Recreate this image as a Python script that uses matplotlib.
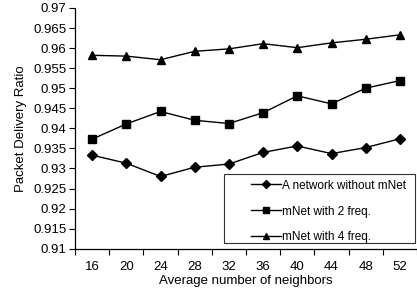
import numpy as np
import matplotlib.pyplot as plt
from matplotlib.ticker import FixedLocator, FixedFormatter
from matplotlib.patches import Rectangle

plt.rcParams['font.family'] = ['Liberation Sans', 'DejaVu Sans']

# data
neighbors = [16, 20, 24, 28, 32, 36, 40, 44, 48, 52]
no_mnet = [0.9333, 0.9313, 0.9280, 0.9303, 0.9311, 0.9340, 0.9356, 0.9337, 0.9352, 0.9374]
mnet_2 = [0.9373, 0.9411, 0.9442, 0.9420, 0.9412, 0.9439, 0.9481, 0.9461, 0.9500, 0.9519]
mnet_4 = [0.9582, 0.9580, 0.9571, 0.9592, 0.9598, 0.9611, 0.9601, 0.9613, 0.9622, 0.9633]
labels = ["A network without mNet", "mNet with 2 freq.", "mNet with 4 freq."]

fig = plt.figure(figsize=(4.17, 2.95), dpi=100)
ax = fig.add_axes([0.18, 0.157, 0.82, 0.816])

x = np.arange(len(neighbors))
ax.plot(x, no_mnet, color='black', lw=1, marker='D', ms=5, label=labels[0])
ax.plot(x, mnet_2, color='black', lw=1, marker='s', ms=6, label=labels[1])
ax.plot(x, mnet_4, color='black', lw=1, marker='^', ms=6, label=labels[2])

# category axis: ticks between categories, labels at centres
ax.set_xlim(-0.5, len(neighbors) - 0.5)
ax.xaxis.set_major_locator(FixedLocator(np.arange(len(neighbors) + 1) - 0.5))
ax.xaxis.set_major_formatter(FixedFormatter([''] * (len(neighbors) + 1)))
ax.xaxis.set_minor_locator(FixedLocator(x))
ax.xaxis.set_minor_formatter(FixedFormatter([str(n) for n in neighbors]))
ax.tick_params(axis='x', which='major', length=4, width=0.8, color='black')
ax.tick_params(axis='x', which='minor', length=0, pad=9, labelsize=9.5)

ax.set_ylim(0.91, 0.97)
yt = np.arange(0.91, 0.9701, 0.005)
ax.set_yticks(yt)
ax.set_yticklabels([('%.3f' % v).rstrip('0') for v in yt])
ax.tick_params(axis='y', length=4, width=0.8, labelsize=9.5, pad=2)

ax.spines['top'].set_visible(False)
ax.spines['right'].set_visible(False)
ax.spines['left'].set_linewidth(0.9)
ax.spines['bottom'].set_linewidth(0.9)

ax.set_xlabel('Average number of neighbors', fontsize=9.5, labelpad=1)
ax.set_ylabel('Packet Delivery Ratio', fontsize=9.5, labelpad=5)

# legend box drawn separately, legend entries placed inside it
ax.add_patch(Rectangle((0.436, 0.024), 0.558, 0.286, transform=ax.transAxes,
                       facecolor='white', edgecolor='#333333', lw=0.8, zorder=3))
leg = ax.legend(loc='upper left', bbox_to_anchor=(0.515, 0.287), frameon=False,
                fontsize=8.5, handlelength=2.5, handletextpad=0.15, borderpad=0,
                borderaxespad=0, labelspacing=1.18, markerscale=0.75)
leg.set_zorder(4)

plt.savefig('out.png', dpi=100)
